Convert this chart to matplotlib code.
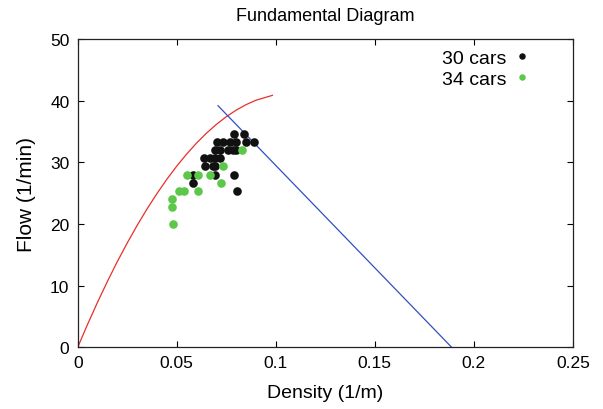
import numpy as np
import matplotlib
matplotlib.use("Agg")
import matplotlib.pyplot as plt

plt.rcParams['font.family'] = ['Liberation Sans', 'DejaVu Sans']

# --- data ---
# 30 cars (black)
dens_30 = [0.0787, 0.0838,
           0.0703, 0.0733, 0.0767, 0.0800, 0.0847, 0.0892,
           0.0692, 0.0717, 0.0758, 0.0783, 0.0797,
           0.0637, 0.0667, 0.0692, 0.0720,
           0.0643, 0.0683, 0.0695,
           0.0580, 0.0692, 0.0787,
           0.0580,
           0.0802]
flow_30 = [34.67, 34.67,
           33.33, 33.33, 33.33, 33.33, 33.33, 33.33,
           32.0, 32.0, 32.0, 32.0, 32.0,
           30.67, 30.67, 30.67, 30.67,
           29.33, 29.33, 29.33,
           28.0, 28.0, 28.0,
           26.67,
           25.33]

# 34 cars (green)
dens_34 = [0.0828, 0.0735, 0.0550, 0.0605, 0.0667, 0.0722,
           0.0513, 0.0537, 0.0605, 0.0475, 0.0478, 0.0483]
flow_34 = [32.0, 29.33, 28.0, 28.0, 28.0, 26.67,
           25.33, 25.33, 25.33, 24.0, 22.67, 20.0]

curve_x = [0, 0.005, 0.010, 0.015, 0.020, 0.025, 0.030, 0.035, 0.040, 0.045,
           0.050, 0.055, 0.060, 0.065, 0.070, 0.075, 0.080, 0.085, 0.090, 0.0983]
curve_y = [0, 3.74, 7.30, 10.69, 13.90, 16.92, 19.77, 22.45, 24.94, 27.26,
           29.40, 31.35, 33.14, 34.74, 36.17, 37.41, 38.48, 39.37, 40.09, 40.88]

# blue line endpoints
line_x = [0.0708, 0.1887]
line_y = [39.2, 0.0]

fig = plt.figure(figsize=(6.03, 4.10), dpi=100)
ax = fig.add_axes([0.129, 0.151, 0.821, 0.751])

ax.plot(curve_x, curve_y, color='#e8302a', lw=0.9)
ax.plot(line_x, line_y, color='#3050c0', lw=0.9)

ax.plot(dens_30, flow_30, 'o', color='#111111', ms=6.2, mew=0, label='30 cars')
ax.plot(dens_34, flow_34, 'o', color='#5cc84a', ms=6.2, mew=0, label='34 cars')

ax.set_xlim(0, 0.25)
ax.set_ylim(0, 50)
ax.set_xticks([0, 0.05, 0.1, 0.15, 0.2, 0.25])
ax.set_xticklabels(['0', '0.05', '0.1', '0.15', '0.2', '0.25'])
ax.set_yticks([0, 10, 20, 30, 40, 50])

ax.tick_params(direction='in', length=4, width=0.8, top=True, right=True,
               labelsize=12.5, pad=6)
for s in ax.spines.values():
    s.set_linewidth(0.9)
    s.set_color('#222222')

ax.set_title('Fundamental Diagram', fontsize=13, pad=14)
ax.set_xlabel('Density (1/m)', fontsize=14, labelpad=10)
ax.set_ylabel('Flow (1/min)', fontsize=15, labelpad=10)

leg = ax.legend(loc='upper right', bbox_to_anchor=(0.929, 1.0),
                markerfirst=False, frameon=False,
                fontsize=14, markerscale=0.75, handlelength=0.6,
                handletextpad=0.5, borderaxespad=0.1, labelspacing=0.2)

fig.savefig('out.png', dpi=100)
